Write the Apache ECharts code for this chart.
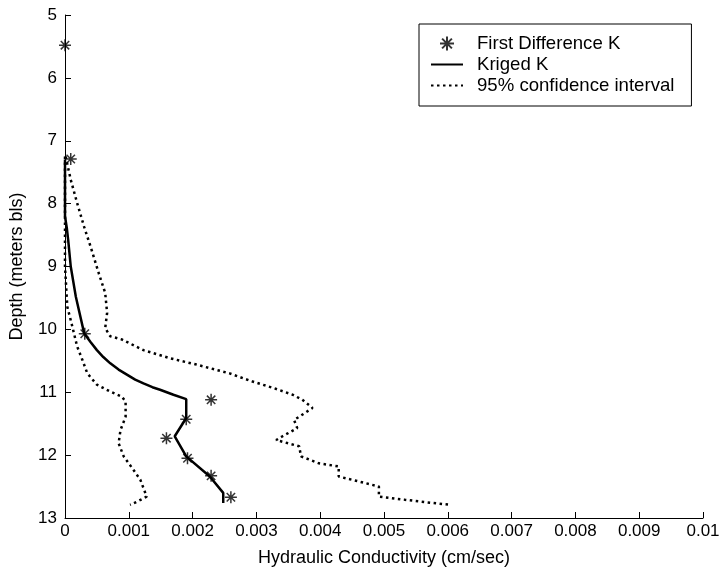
<!DOCTYPE html>
<html>
<head>
<meta charset="utf-8">
<script src="https://cdn.jsdelivr.net/npm/echarts@6/dist/echarts.min.js"></script>
<style>
  html, body { margin: 0; padding: 0; background: #fff; }
  #chart { width: 723px; height: 574px; }
</style>
</head>
<body>
<div id="chart"></div>
<script>
// first difference K (stars)
var starK     = [0, 0.00009, 0.00031, 0.00229, 0.0019, 0.00159, 0.00192, 0.00229, 0.0026];
var starDepth = [5.48, 7.29, 10.07, 11.12, 11.43, 11.73, 12.05, 12.33, 12.67];

// kriged K
var krigK     = [0, 0, 0.00003, 0.00005, 0.00009, 0.00017, 0.0003, 0.0004, 0.0005, 0.0006, 0.00071, 0.00084, 0.00097, 0.0011, 0.00123, 0.00137, 0.00149, 0.0017, 0.0019, 0.0019, 0.00172, 0.0019, 0.00227, 0.00248, 0.00248];
var krigDepth = [7.3, 8.2, 8.4, 8.58, 9.0, 9.48, 10.06, 10.2, 10.33, 10.44, 10.54, 10.64, 10.72, 10.8, 10.86, 10.92, 10.96, 11.04, 11.11, 11.41, 11.7, 12.02, 12.34, 12.6, 12.76];

// 95% confidence interval, lower side
var lowK     = [0, 0, 0.000036, 0.000089, 0.00014, 0.00019, 0.00027, 0.00035, 0.0005, 0.00071, 0.00089, 0.00095, 0.00095, 0.00087, 0.00084, 0.00092, 0.00107, 0.00118, 0.00128, 0.00113, 0.00102];
var lowDepth = [7.25, 9.0, 9.64, 9.85, 10.06, 10.27, 10.48, 10.7, 10.88, 10.99, 11.07, 11.15, 11.39, 11.6, 11.81, 12.02, 12.23, 12.39, 12.66, 12.74, 12.79];

// 95% confidence interval, upper side
var upK     = [0.00001, 0.00009, 0.00019, 0.0003, 0.0004, 0.00053, 0.00063, 0.00066, 0.00063, 0.00071, 0.00089, 0.00123, 0.00165, 0.00206, 0.00258, 0.00294, 0.00326, 0.00357, 0.00372, 0.00388, 0.00367, 0.00359, 0.00364, 0.00341, 0.00331, 0.00367, 0.0037, 0.00398, 0.00429, 0.00429, 0.00461, 0.00492, 0.00492, 0.00533, 0.00575, 0.00603];
var upDepth = [7.25, 7.62, 7.99, 8.37, 8.68, 9.11, 9.42, 9.74, 9.98, 10.11, 10.16, 10.33, 10.46, 10.56, 10.7, 10.83, 10.93, 11.04, 11.12, 11.25, 11.39, 11.44, 11.57, 11.7, 11.76, 11.86, 12.02, 12.13, 12.18, 12.34, 12.42, 12.5, 12.66, 12.71, 12.76, 12.79];

var xTickLabels = ['0', '0.001', '0.002', '0.003', '0.004', '0.005', '0.006', '0.007', '0.008', '0.009', '0.01'];
var yTickLabels = ['5', '6', '7', '8', '9', '10', '11', '12', '13'];

function pairs(xs, ys) {
	var out = [];
	for (var i = 0; i < xs.length; i++) out.push([xs[i], ys[i]]);
	return out;
}

var FONT = 'Liberation Sans, Arial, sans-serif';
var asterisk = 'path://M5,0L5,10M0,5L10,5M1.5,1.5L8.5,8.5M1.5,8.5L8.5,1.5';
var dotted = { color: '#000', width: 2.5, type: [2.5, 3.5] };

var chart = echarts.init(document.getElementById('chart'));
chart.setOption({
	animation: false,
	backgroundColor: '#fff',
	grid: { left: 61, right: 20, top: 15, bottom: 56 },
	legend: {
		orient: 'vertical',
		left: 419,
		top: 24,
		padding: [10, 17, 11, 11],
		itemWidth: 32,
		itemHeight: 14,
		itemGap: 2,
		borderColor: '#000',
		borderWidth: 1,
		backgroundColor: '#fff',
		textStyle: { fontFamily: FONT, fontSize: 18.6, lineHeight: 18, color: '#000', padding: [0, 0, 0, 9] },
		data: [
			'First Difference K',
			{ name: 'Kriged K', itemStyle: { opacity: 0 } },      // line only, no marker
			{ name: '95% confidence interval', itemStyle: { opacity: 0 } }
		]
	},
	xAxis: {
		type: 'value',
		min: 0,
		max: 0.01,
		interval: 0.001,
		name: 'Hydraulic Conductivity (cm/sec)',
		nameLocation: 'middle',
		nameGap: 31,
		nameTextStyle: { fontFamily: FONT, fontSize: 18, color: '#000' },
		axisLine: { lineStyle: { color: '#000', width: 1 } },
		axisTick: { inside: true, length: 6, lineStyle: { color: '#000' } },
		splitLine: { show: false },
		axisLabel: {
			margin: 5,
			fontFamily: FONT, fontSize: 17, color: '#000',
			formatter: function (v) { return xTickLabels[Math.round(v / 0.001)]; }
		}
	},
	yAxis: {
		type: 'value',
		inverse: true,
		min: 5,
		max: 13,
		interval: 1,
		name: 'Depth (meters bls)',
		nameLocation: 'middle',
		nameGap: 39,
		nameTextStyle: { fontFamily: FONT, fontSize: 18, color: '#000' },
		axisLine: { lineStyle: { color: '#000', width: 1 } },
		axisTick: { inside: true, length: 6, lineStyle: { color: '#000' } },
		splitLine: { show: false },
		axisLabel: {
			margin: 8,
			fontFamily: FONT, fontSize: 17, color: '#000',
			formatter: function (v) { return yTickLabels[Math.round(v - 5)]; }
		}
	},
	series: [
		{
			name: '95% confidence interval',
			type: 'line',
			symbol: 'none',
			lineStyle: dotted,
			itemStyle: { color: '#000' },
			data: pairs(lowK, lowDepth)
		},
		{
			name: '95% confidence interval',
			type: 'line',
			symbol: 'none',
			lineStyle: dotted,
			itemStyle: { color: '#000' },
			data: pairs(upK, upDepth)
		},
		{
			name: 'Kriged K',
			type: 'line',
			symbol: 'none',
			lineStyle: { color: '#000', width: 2.5 },
			itemStyle: { color: '#000' },
			data: pairs(krigK, krigDepth)
		},
		{
			name: 'First Difference K',
			type: 'scatter',
			symbol: asterisk,
			symbolSize: 12,
			z: 5,
			itemStyle: { color: '#000', borderColor: '#000', borderWidth: 1.5 },
			data: pairs(starK, starDepth)
		}
	]
});
</script>
</body>
</html>
